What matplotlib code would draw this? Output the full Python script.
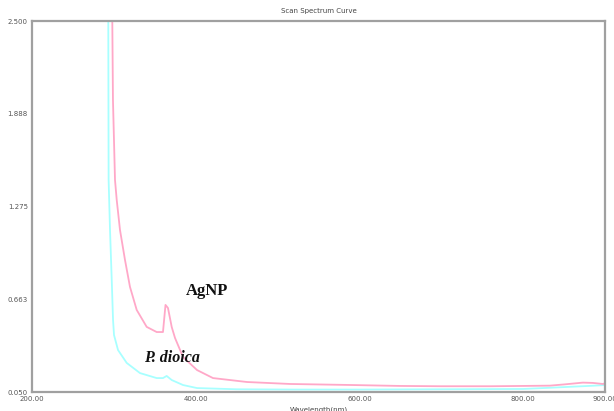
import matplotlib
matplotlib.use("Agg")
import matplotlib.pyplot as plt

# Data
agnp_wl = [297.0, 298.1, 298.9, 301.4, 303.5, 307.5, 313.6, 319.7, 327.9, 340.1, 352.3,
           360.0, 363.1, 366.1, 370.7, 374.7, 384.5, 401.6, 421.1, 462.6, 515.2,
           592.1, 649.6, 700.0, 760.0, 800.0, 832.8, 850.0, 873.0, 885.0, 897.5, 900.0]
agnp_abs = [3.2, 2.500, 1.979, 1.450, 1.318, 1.120, 0.922, 0.744, 0.592, 0.480, 0.446,
            0.446, 0.625, 0.605, 0.479, 0.407, 0.281, 0.195, 0.142, 0.116, 0.103,
            0.096, 0.090, 0.088, 0.088, 0.090, 0.092, 0.100, 0.112, 0.110, 0.103, 0.108]

dioica_wl = [293.0, 293.2, 293.6, 295.3, 297.4, 299.0, 300.2, 305.1, 315.7, 331.9,
             352.3, 360.0, 364.5, 370.7, 384.5, 401.6, 450.0, 520.0, 600.0, 700.0,
             800.0, 832.8, 860.0, 880.0, 897.5, 900.0]
dioica_abs = [3.2, 2.500, 1.450, 1.120, 0.790, 0.526, 0.426, 0.327, 0.242, 0.175,
              0.142, 0.142, 0.156, 0.129, 0.096, 0.076, 0.068, 0.066, 0.066, 0.068,
              0.070, 0.078, 0.085, 0.090, 0.095, 0.098]

x_ticks = [200, 400, 600, 800, 900]
x_ticklabels = ["200.00", "400.00", "600.00", "800.00", "900.00"]
y_ticks = [0.050, 0.663, 1.275, 1.888, 2.500]
y_ticklabels = ["0.050", "0.663", "1.275", "1.888", "2.500"]

fig = plt.figure(figsize=(6.14, 4.11), dpi=100)
ax = fig.add_axes([32/614, 19/411, 573/614, 371/411])

ax.plot(dioica_wl, dioica_abs, color="#a8ffff", lw=1.3)
ax.plot(agnp_wl, agnp_abs, color="#ffa8c8", lw=1.3)

ax.set_xlim(200, 900)
ax.set_ylim(0.050, 2.500)
ax.set_xticks(x_ticks)
ax.set_xticklabels(x_ticklabels)
ax.set_yticks(y_ticks)
ax.set_yticklabels(y_ticklabels)
ax.tick_params(length=0, labelsize=5, colors="#555555", pad=3)
for s in ax.spines.values():
    s.set_color("#a0a0a0")
    s.set_linewidth(1.6)

ax.set_title("Scan Spectrum Curve", fontsize=5, color="#444444", pad=6)
ax.set_xlabel("Wavelength(nm)", fontsize=5, color="#444444", labelpad=3)


def px_to_wl(px):
    return 200 + (px - 32) / 0.8186


def py_to_abs(py):
    return 0.05 + (392 - py) / 151.4


ax.text(px_to_wl(207), py_to_abs(291), "AgNP", family="Liberation Serif",
        fontweight="bold", fontsize=12, ha="center", va="center", color="#111111")
ax.text(px_to_wl(172), py_to_abs(358), "P. dioica", family="Liberation Serif",
        fontweight="bold", fontstyle="italic", fontsize=11.5, ha="center", va="center",
        color="#111111")

fig.savefig("out.png", dpi=100)
